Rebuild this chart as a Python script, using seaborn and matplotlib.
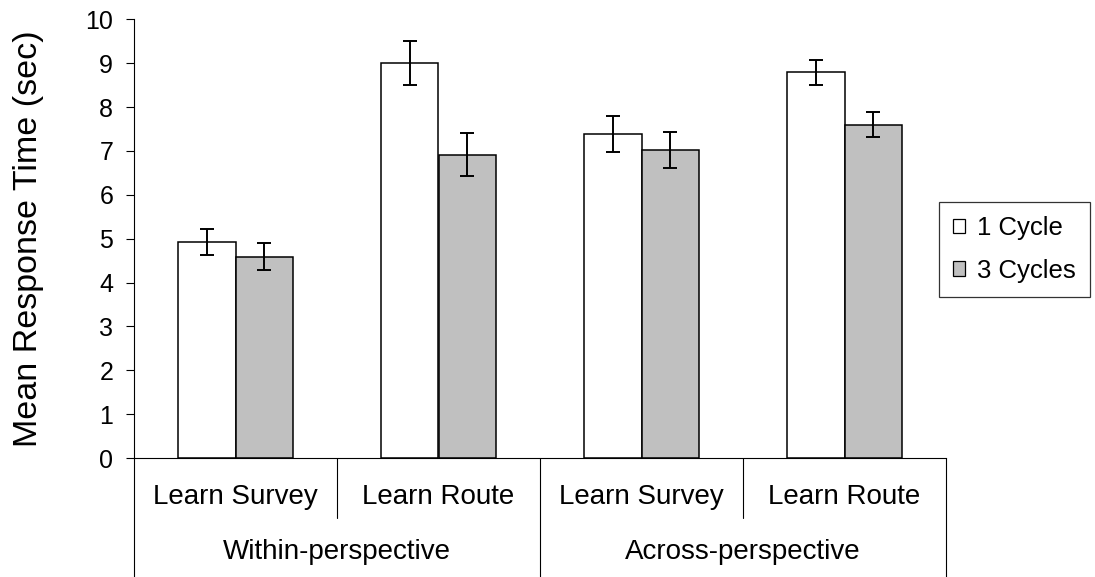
import matplotlib
matplotlib.use("Agg")
import matplotlib.pyplot as plt
from matplotlib.patches import Patch
import seaborn as sns
import pandas as pd
import numpy as np

# Mean response times and error bars per condition
perspectives = ["Within-perspective", "Across-perspective"]
learn_conditions = ["Learn Survey", "Learn Route"]
cycle_levels = ["1 Cycle", "3 Cycles"]

mean_1_cycle = [4.92, 9.01, 7.39, 8.79]
mean_3_cycles = [4.59, 6.91, 7.03, 7.60]
err_1_cycle = [0.30, 0.50, 0.41, 0.29]
err_3_cycles = [0.31, 0.49, 0.41, 0.29]

yticks = list(range(0, 11))

bar_colors = {"1 Cycle": "#FFFFFF", "3 Cycles": "#C0C0C0"}

sns.set_theme(style="white")
plt.rcParams["font.family"] = ["Liberation Sans", "DejaVu Sans"]
plt.rcParams.update({"text.color": "black", "axes.labelcolor": "black",
                     "xtick.color": "black", "ytick.color": "black"})

# Build long-form table: one row per (perspective, learn condition, cycles)
groups = [f"{p}|{l}" for p in perspectives for l in learn_conditions]
rows = []
for g, m1, m3, e1, e3 in zip(groups, mean_1_cycle, mean_3_cycles, err_1_cycle, err_3_cycles):
    rows.append({"group": g, "cycles": cycle_levels[0], "rt": m1, "err": e1})
    rows.append({"group": g, "cycles": cycle_levels[1], "rt": m3, "err": e3})
df = pd.DataFrame(rows)

fig = plt.figure(figsize=(10.95, 5.77), dpi=100)
ax = fig.add_axes([134 / 1095, 1 - 458 / 577, (946 - 134) / 1095, (458 - 19.3) / 577])

sns.barplot(
    data=df, x="group", y="rt", hue="cycles", order=groups, hue_order=cycle_levels,
    palette=bar_colors, width=0.57, errorbar=None, edgecolor="black", linewidth=1.1,
    saturation=1, ax=ax, legend=False,
)

# Error bars centred on each bar
for level, container in zip(cycle_levels, ax.containers):
    sub = df[df["cycles"] == level].set_index("group").loc[groups]
    xs = [b.get_x() + b.get_width() / 2 for b in container]
    ax.errorbar(xs, sub["rt"].values, yerr=sub["err"].values, fmt="none",
                ecolor="black", elinewidth=1.4, capsize=4.8, capthick=1.4, zorder=5)

ax.set_ylim(0, 10)
ax.set_xlim(-0.5, len(groups) - 0.5)
ax.set_yticks(yticks)
ax.set_yticklabels([str(t) for t in yticks], fontsize=18, color="black")
ax.tick_params(axis="y", which="major", length=6, width=0.8, color="black",
               direction="out", pad=9, left=True)
ax.set_xticks([])
ax.set_xlabel("")
ax.set_ylabel("Mean Response Time (sec)", fontsize=24.5, color="black")
ax.yaxis.set_label_coords((44 - 134) / 812, 0.5)

for side in ["top", "right"]:
    ax.spines[side].set_visible(False)
for side in ["left", "bottom"]:
    ax.spines[side].set_visible(True)
    ax.spines[side].set_color("black")
    ax.spines[side].set_linewidth(0.8)

# Two-level category axis beneath the plot
trans = ax.get_xaxis_transform()
line_kw = dict(color="black", linewidth=0.8, transform=trans, clip_on=False)
n_learn = len(learn_conditions)
for i in range(len(groups) + 1):
    x = i - 0.5
    bottom = -0.271 if i % n_learn == 0 else -0.137
    ax.plot([x, x], [0, bottom], **line_kw)

for i, g in enumerate(groups):
    ax.text(i, -0.090, g.split("|")[1], transform=trans, ha="center", va="center",
            fontsize=20, color="black")
for j, p in enumerate(perspectives):
    center = j * n_learn + (n_learn - 1) / 2
    ax.text(center, -0.214, p, transform=trans, ha="center", va="center",
            fontsize=20, color="black")

handles = [Patch(facecolor=bar_colors[c], edgecolor="black", linewidth=0.9) for c in cycle_levels]
leg = fig.legend(
    handles, cycle_levels, loc="upper left", bbox_to_anchor=(939 / 1095, 1 - 202 / 577),
    fontsize=18.5, frameon=True, fancybox=False, shadow=False, borderpad=0.55,
    handlelength=0.47, handleheight=0.47, handletextpad=0.47, labelspacing=0.72,
    borderaxespad=0, labelcolor="black",
)
leg.get_frame().set_edgecolor("black")
leg.get_frame().set_linewidth(0.9)

fig.savefig("out.png", dpi=100, facecolor="white")
